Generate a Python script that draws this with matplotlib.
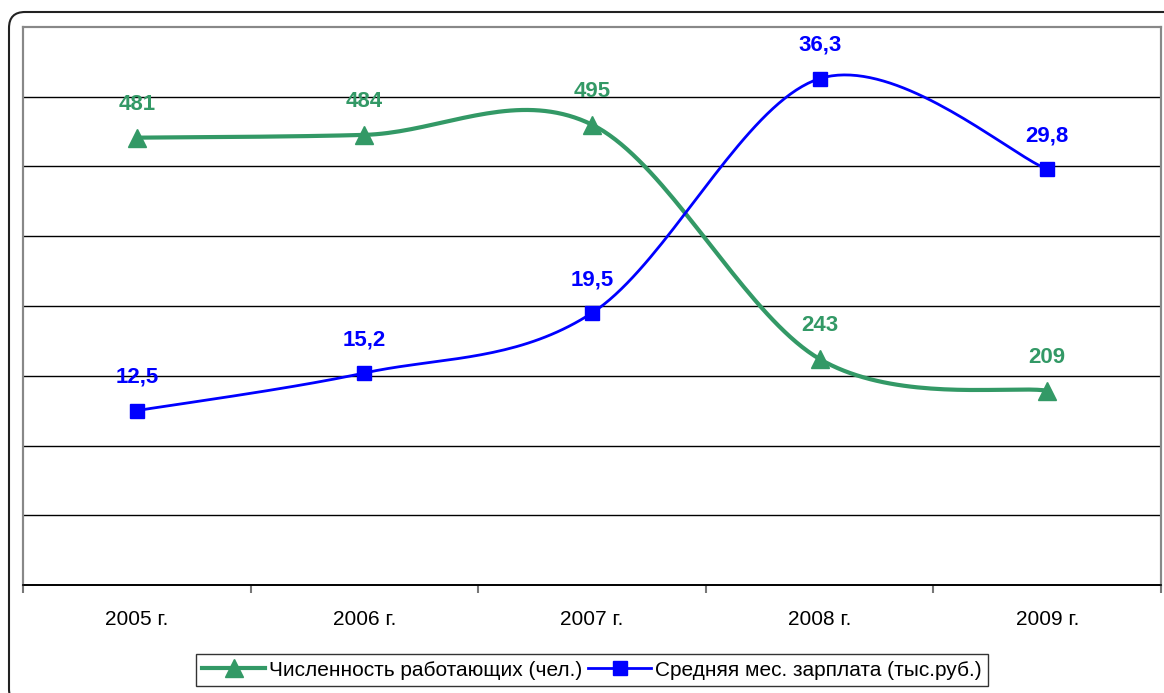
import numpy as np
import matplotlib
matplotlib.use("Agg")
import matplotlib.pyplot as plt
from matplotlib.patches import FancyBboxPatch
from matplotlib.transforms import IdentityTransform

# dados
anos = ["2005 г.", "2006 г.", "2007 г.", "2008 г.", "2009 г."]
trabalhadores = [481, 484, 495, 243, 209]
salario = [12.5, 15.2, 19.5, 36.3, 29.8]
rotulos_trab = ["481", "484", "495", "243", "209"]
rotulos_sal = ["12,5", "15,2", "19,5", "36,3", "29,8"]
nome_trab = "Численность работающих (чел.)"
nome_sal = "Средняя мес. зарплата (тыс.руб.)"

verde = "#339966"
azul = "#0000FF"


def suavizar(xs, ys, n=40):                       # curva suavizada tipo excel (bezier catmull-rom)
    xs = np.asarray(xs, float)
    ys = np.asarray(ys, float)
    px = np.concatenate([[xs[0]], xs, [xs[-1]]])
    py = np.concatenate([[ys[0]], ys, [ys[-1]]])
    saida_x, saida_y = [], []
    t = np.linspace(0, 1, n)
    for i in range(1, len(xs)):
        p0x, p0y = px[i], py[i]
        p3x, p3y = px[i + 1], py[i + 1]
        c1x = p0x + (px[i + 1] - px[i - 1]) / 6
        c1y = p0y + (py[i + 1] - py[i - 1]) / 6
        c2x = p3x - (px[i + 2] - px[i]) / 6
        c2y = p3y - (py[i + 2] - py[i]) / 6
        bx = (1 - t) ** 3 * p0x + 3 * (1 - t) ** 2 * t * c1x + 3 * (1 - t) * t ** 2 * c2x + t ** 3 * p3x
        by = (1 - t) ** 3 * p0y + 3 * (1 - t) ** 2 * t * c1y + 3 * (1 - t) * t ** 2 * c2y + t ** 3 * p3y
        saida_x.extend(bx)
        saida_y.extend(by)
    return np.array(saida_x), np.array(saida_y)


plt.rcParams["font.family"] = ["Liberation Sans", "DejaVu Sans"]

fig = plt.figure(figsize=(11.64, 6.93), dpi=100)
ax = fig.add_axes([23 / 1164, 108 / 693, 1138 / 1164, 558 / 693])
ax2 = ax.twinx()

x = np.arange(len(anos))

# moldura externa arredondada
moldura = FancyBboxPatch((9, 693 - 705), 1175, 693, boxstyle="round,pad=0,rounding_size=16",
                         transform=IdentityTransform(), fill=False, edgecolor="#222222",
                         linewidth=1.5, clip_on=False)
fig.patches.append(moldura)

# série verde (eixo principal)
sx, sy = suavizar(x, trabalhadores)
ax.plot(sx, sy, color=verde, linewidth=3, zorder=3)
ax.plot(x, trabalhadores, linestyle="none", marker="^", markersize=13, color=verde, zorder=4)
for xi, yi, r in zip(x, trabalhadores, rotulos_trab):
    ax.annotate(r, (xi, yi), xytext=(0, 24), textcoords="offset points", ha="center", va="center",
                fontsize=16, fontweight="bold", color=verde)

# série azul (eixo secundário)
sx, sy = suavizar(x, salario)
ax2.plot(sx, sy, color=azul, linewidth=2, zorder=3)
ax2.plot(x, salario, linestyle="none", marker="s", markersize=10, color=azul, zorder=4)
for xi, yi, r in zip(x, salario, rotulos_sal):
    ax2.annotate(r, (xi, yi), xytext=(0, 24), textcoords="offset points", ha="center", va="center",
                 fontsize=16, fontweight="bold", color=azul)

ax.set_xlim(-0.5, len(anos) - 0.5)
ax.set_ylim(0, 600)
ax2.set_ylim(0, 40)

ax.set_yticks(np.arange(75, 600, 75))
ax.yaxis.grid(True, color="black", linewidth=1)
ax.set_axisbelow(True)
ax.tick_params(axis="y", left=False, labelleft=False)
ax2.tick_params(axis="y", right=False, labelright=False)

ax.set_xticks(np.arange(-0.5, len(anos), 1.0))
ax.set_xticklabels([])
ax.set_xticks(x, minor=True)
ax.set_xticklabels(anos, minor=True, fontsize=15)
ax.tick_params(axis="x", which="major", direction="out", length=6, color="#777777", width=1.5)
ax.tick_params(axis="x", which="minor", length=0, pad=18)

for eixo in (ax, ax2):
    for lado in ("left", "right", "top"):
        eixo.spines[lado].set_color("#888888")
        eixo.spines[lado].set_linewidth(1.5)
    eixo.spines["bottom"].set_color("black")
    eixo.spines["bottom"].set_linewidth(1.2)

# legenda
h1 = plt.Line2D([], [], color=verde, linewidth=3, marker="^", markersize=13)
h2 = plt.Line2D([], [], color=azul, linewidth=2, marker="s", markersize=10)
leg = fig.legend([h1, h2], [nome_trab, nome_sal], loc="center", bbox_to_anchor=(592 / 1164, 23 / 693),
                 ncol=2, fontsize=15, frameon=True, fancybox=False, edgecolor="black",
                 handlelength=3.0, handletextpad=0.2, columnspacing=0.3, borderpad=0.3)
leg.get_frame().set_linewidth(1)

fig.savefig("out.png", dpi=100)
